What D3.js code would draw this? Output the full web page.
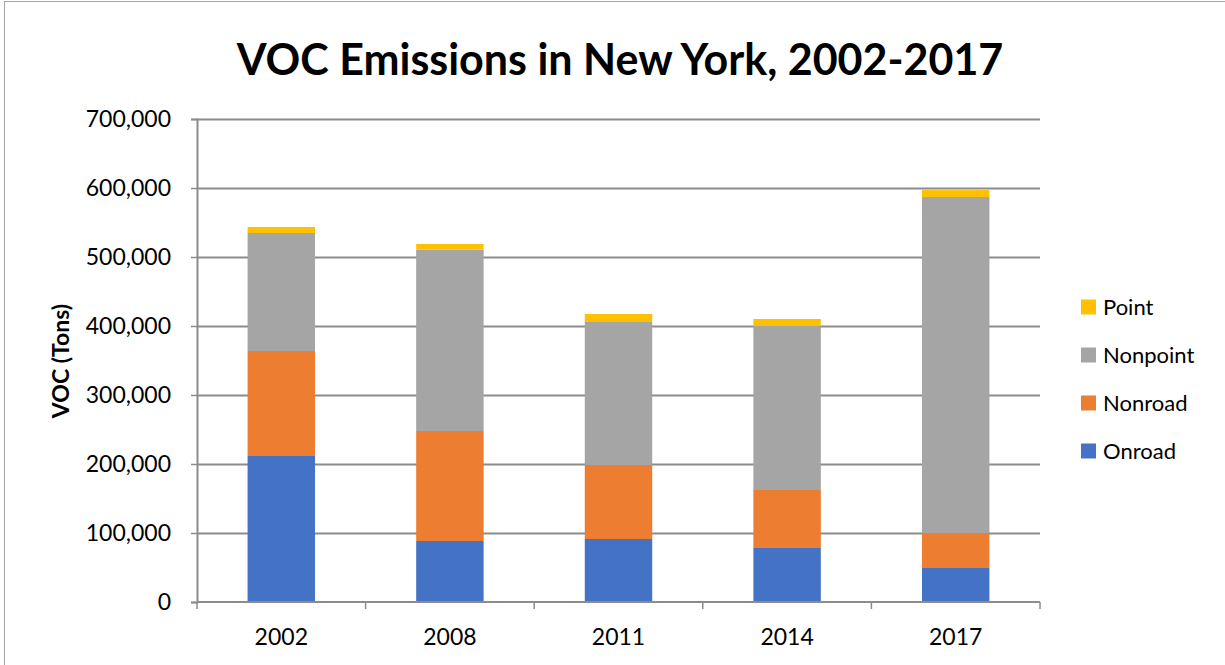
<!DOCTYPE html>
<html>
<head>
<meta charset="utf-8">
<script src="https://cdn.jsdelivr.net/npm/d3@7"></script>
<style>
  body { margin: 0; background: #fff; }
  text { font-family: Lato, "Open Sans", sans-serif; fill: #000; }
</style>
</head>
<body>
<script>
// data
var years = ['2002', '2008', '2011', '2014', '2017'];
var onroad = [211600, 88400, 91300, 78300, 49300];
var nonroad = [152200, 159400, 107300, 84000, 50700];
var nonpoint = [171000, 262800, 207200, 237700, 487000];
var point = [8700, 8200, 11600, 10100, 10000];
var seriesNames = ['Onroad', 'Nonroad', 'Nonpoint', 'Point'];
var colors = ['#4472C4', '#ED7D31', '#A5A5A5', '#FFC000'];
var yTicks = [0, 100000, 200000, 300000, 400000, 500000, 600000, 700000];

var width = 1225, height = 665;
var plotLeft = 197, plotRight = 1040, plotTop = 119, plotBottom = 602;

var rows = years.map(function(y, i) {
  return { year: y, Onroad: onroad[i], Nonroad: nonroad[i], Nonpoint: nonpoint[i], Point: point[i] };
});
var stacked = d3.stack().keys(seriesNames)(rows);

var svg = d3.select('body').append('svg')
    .attr('width', width)
    .attr('height', height);

// outer chart border
svg.append('rect')
  .attr('x', 4.5).attr('y', 1.5)
  .attr('width', 1240).attr('height', 680)
  .attr('fill', 'none')
  .attr('stroke', '#a6a6a6');

var x = d3.scaleBand().domain(years).range([plotLeft, plotRight]).paddingInner(0.6).paddingOuter(0.3);
var y = d3.scaleLinear().domain([0, 700000]).range([plotBottom, plotTop]);

// gridlines
svg.append('g').selectAll('line')
  .data(yTicks.slice(1))
  .enter().append('line')
  .attr('x1', plotLeft).attr('x2', plotRight)
  .attr('y1', function(d) { return Math.round(y(d)) + 0.5; })
  .attr('y2', function(d) { return Math.round(y(d)) + 0.5; })
  .attr('stroke', '#8c8c8c')
  .attr('stroke-width', 2);

// bars
svg.append('g').selectAll('g')
  .data(stacked)
  .enter().append('g')
    .attr('fill', function(d, i) { return colors[i]; })
  .selectAll('rect')
  .data(function(d) { return d; })
  .enter().append('rect')
    .attr('x', function(d) { return x(d.data.year); })
    .attr('width', x.bandwidth())
    .attr('y', function(d) { return y(d[1]); })
    .attr('height', function(d) { return y(d[0]) - y(d[1]); });

// y axis
var yAxis = svg.append('g')
  .attr('transform', 'translate(' + plotLeft + ',0)')
  .call(d3.axisLeft(y).tickValues(yTicks).tickFormat(d3.format(',')).tickSize(6).tickPadding(20));
yAxis.select('.domain').attr('stroke', '#8c8c8c').attr('stroke-width', 2);
yAxis.selectAll('line').attr('stroke', '#8c8c8c').attr('stroke-width', 1.5);
yAxis.selectAll('text').attr('font-size', 23).attr('fill', '#000')
  .style('font-family', 'Lato, sans-serif');

// x axis with boundary ticks
var xAxis = svg.append('g')
  .attr('transform', 'translate(0,' + plotBottom + ')');
xAxis.append('line')
  .attr('x1', plotLeft).attr('x2', plotRight)
  .attr('stroke', '#8c8c8c').attr('stroke-width', 2);
var step = (plotRight - plotLeft) / years.length;
xAxis.selectAll('.tk')
  .data(d3.range(years.length + 1))
  .enter().append('line')
  .attr('x1', function(d) { return plotLeft + d * step; })
  .attr('x2', function(d) { return plotLeft + d * step; })
  .attr('y1', 0).attr('y2', 7)
  .attr('stroke', '#8c8c8c').attr('stroke-width', 1.5);
xAxis.selectAll('text')
  .data(years)
  .enter().append('text')
  .attr('x', function(d) { return x(d) + x.bandwidth() / 2; })
  .attr('y', 43)
  .attr('text-anchor', 'middle')
  .attr('font-size', 23)
  .text(function(d) { return d; });

// title
svg.append('text')
  .attr('x', 620).attr('y', 75)
  .attr('text-anchor', 'middle')
  .attr('font-size', 43)
  .attr('font-weight', 'bold')
  .text('VOC Emissions in New York, 2002-2017');

// y axis title
svg.append('text')
  .attr('transform', 'translate(69,361) rotate(-90)')
  .attr('text-anchor', 'middle')
  .attr('font-size', 23)
  .attr('font-weight', 'bold')
  .text('VOC (Tons)');

// legend
var legendOrder = ['Point', 'Nonpoint', 'Nonroad', 'Onroad'];
var legend = svg.append('g').selectAll('g')
  .data(legendOrder)
  .enter().append('g')
  .attr('transform', function(d, i) { return 'translate(1081,' + (307 + i * 48) + ')'; });
legend.append('rect')
  .attr('x', 0).attr('y', -7.5)
  .attr('width', 15).attr('height', 15)
  .attr('fill', function(d) { return colors[seriesNames.indexOf(d)]; });
legend.append('text')
  .attr('x', 22).attr('y', 8)
  .attr('font-size', 22)
  .text(function(d) { return d; });
</script>
</body>
</html>
